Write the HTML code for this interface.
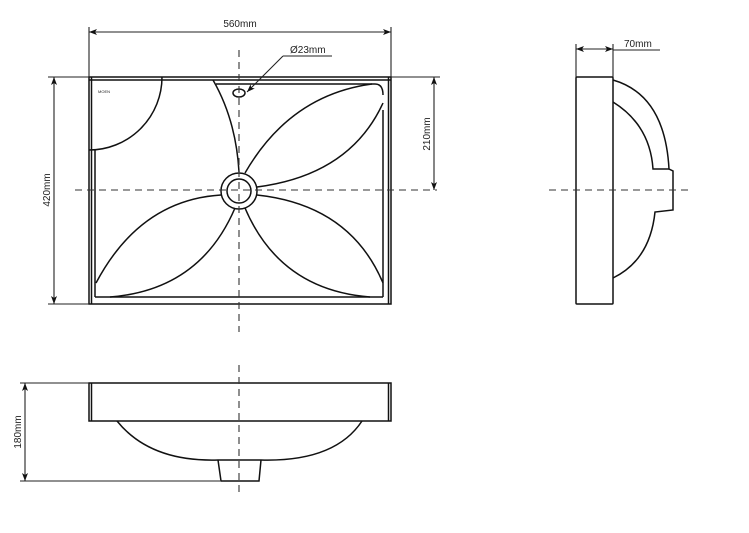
<!DOCTYPE html>
<html><head><style>body{margin:0;background:#fff}svg{display:block}text{font-family:"Liberation Sans",sans-serif;font-size:10px;fill:#222}</style></head>
<body>
<svg width="749" height="533" viewBox="0 0 749 533" xmlns="http://www.w3.org/2000/svg">
<defs><marker id="a" markerWidth="9" markerHeight="8" refX="8" refY="4" orient="auto-start-reverse" markerUnits="userSpaceOnUse"><path d="M0,1 L8,4 L0,7 L2,4 Z" fill="#111" stroke="none"/></marker></defs>
<g stroke="#111" fill="none" stroke-width="1.5">
<rect x="89" y="77" width="302" height="227"/>
<line x1="91.5" y1="77" x2="91.5" y2="304"/><line x1="388.5" y1="77" x2="388.5" y2="304"/>
<line x1="89" y1="80" x2="391" y2="80"/>
<line x1="95" y1="150" x2="95" y2="297"/><line x1="383" y1="110" x2="383" y2="297"/>
<line x1="95" y1="297" x2="383" y2="297"/>
<path d="M216,84 L375,84 Q383,84 383,95"/>
<path d="M162,77 A73,73 0 0 1 89,150"/>
<path d="M213,80 Q236,120 239,172"/>
<path d="M245,173 Q290,95 372,84"/><path d="M257,187 Q350,175 383,103"/>
<path d="M221,195 Q140,200 96,283"/><path d="M235,208 Q200,290 110,297"/>
<path d="M257,195 Q350,205 383,283"/><path d="M245,208 Q280,290 370,297"/>
<circle cx="239" cy="191" r="18"/><circle cx="239" cy="191" r="12"/>
<ellipse cx="239" cy="93" rx="6" ry="4"/>
<rect x="576" y="77" width="37" height="227" rx="1"/>
<path d="M613,80 Q665,95 669,169 L673,171 L673,210 L655,212 Q650,260 613,278"/>
<path d="M613,102 Q650,125 653,169 L669,169"/>
<rect x="89" y="383" width="302" height="38"/>
<line x1="91.5" y1="383" x2="91.5" y2="421"/><line x1="388.5" y1="383" x2="388.5" y2="421"/>
<path d="M117,421 Q150,462 218,460 L261,460 Q335,462 362,421"/>
<path d="M218,460 L221,481 L259,481 L261,460"/>
</g>
<g stroke="#222" stroke-width="1.1" fill="none">
<line x1="89" y1="27" x2="89" y2="77"/><line x1="391" y1="27" x2="391" y2="77"/>
<line x1="89" y1="32" x2="391" y2="32" marker-start="url(#a)" marker-end="url(#a)"/>
<line x1="48" y1="77" x2="89" y2="77"/><line x1="48" y1="304" x2="89" y2="304"/>
<line x1="54" y1="77" x2="54" y2="304" marker-start="url(#a)" marker-end="url(#a)"/>
<line x1="391" y1="77" x2="440" y2="77"/>
<line x1="434" y1="77" x2="434" y2="190" marker-start="url(#a)" marker-end="url(#a)"/>
<line x1="576" y1="44" x2="576" y2="77"/><line x1="613" y1="44" x2="613" y2="77"/>
<line x1="576" y1="49" x2="613" y2="49" marker-start="url(#a)" marker-end="url(#a)"/>
<line x1="613" y1="50" x2="660" y2="50"/>
<line x1="283" y1="56" x2="332" y2="56"/>
<line x1="283" y1="56" x2="247" y2="92" marker-end="url(#a)"/>
<line x1="20" y1="383" x2="89" y2="383"/><line x1="20" y1="481" x2="220" y2="481"/>
<line x1="25" y1="383" x2="25" y2="481" marker-start="url(#a)" marker-end="url(#a)"/>
</g>
<g stroke="#333" stroke-width="1.1" stroke-dasharray="7,5">
<line x1="75" y1="190" x2="437" y2="190"/>
<line x1="239" y1="50" x2="239" y2="332"/>
<line x1="549" y1="190" x2="690" y2="190"/>
<line x1="239" y1="365" x2="239" y2="497"/>
</g>
<text x="240" y="27" text-anchor="middle">560mm</text>
<text x="290" y="53">Ø23mm</text>
<text x="624" y="47">70mm</text>
<text x="0" y="0" text-anchor="middle" transform="translate(50,190) rotate(-90)">420mm</text>
<text x="0" y="0" text-anchor="middle" transform="translate(430,134) rotate(-90)">210mm</text>
<text x="0" y="0" text-anchor="middle" transform="translate(21,432) rotate(-90)">180mm</text>
<text x="98" y="93" style="font-size:4px">MOEN</text>
</svg>
</body></html>
